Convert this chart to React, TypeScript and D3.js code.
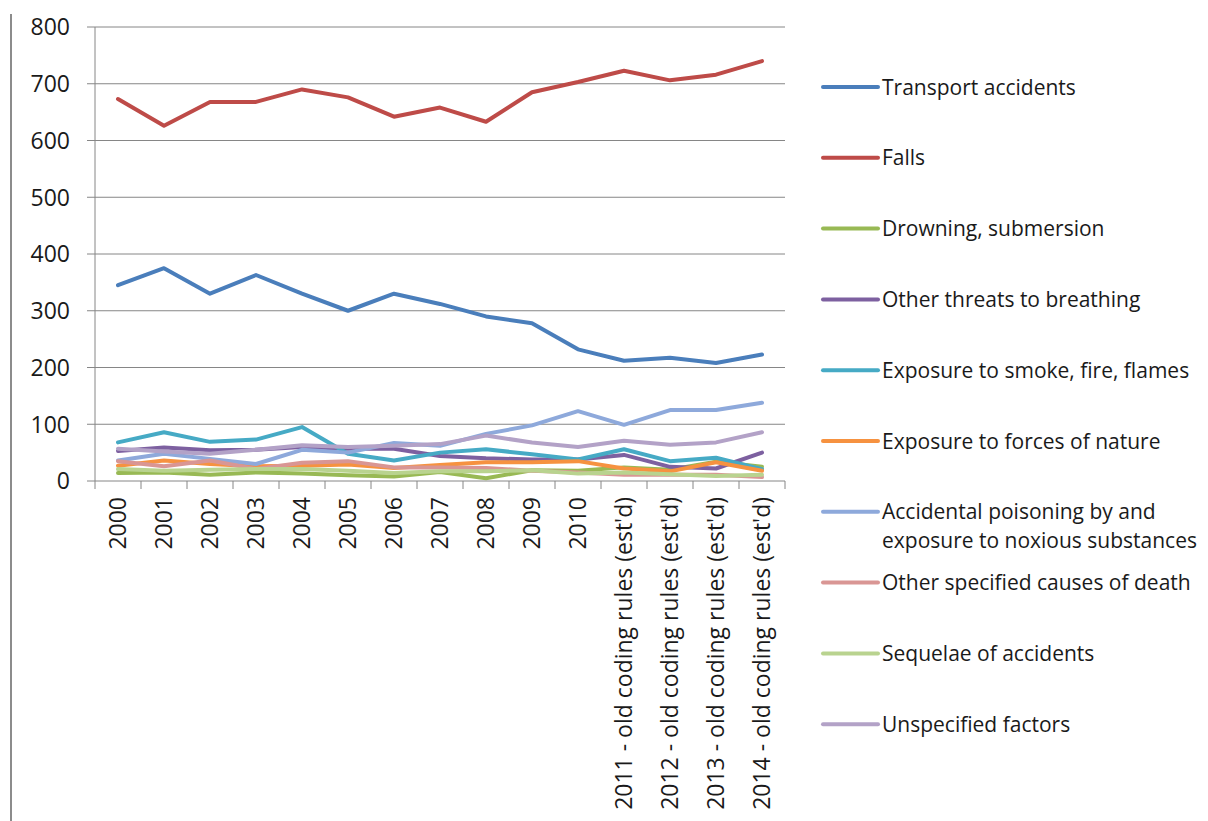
import React from "react";
import * as d3 from "d3";

const categories = ["2000","2001","2002","2003","2004","2005","2006","2007","2008","2009","2010",
  "2011 - old coding rules (est'd)","2012 - old coding rules (est'd)","2013 - old coding rules (est'd)","2014 - old coding rules (est'd)"];

const transport = [345,375,330,363,330,300,330,312,290,278,232,212,217,208,223];
const falls = [673,626,668,668,690,676,642,658,633,685,703,723,706,716,740];
const drowning = [14,15,11,15,13,10,8,16,5,19,18,24,20,34,25];
const otherThreats = [53,59,54,55,60,57,57,44,40,38,38,46,25,22,50];
const smoke = [68,86,69,73,95,48,36,50,56,47,38,56,35,41,21];
const forces = [27,36,30,26,27,29,23,28,33,33,35,22,17,33,18];
const poisoning = [36,48,39,30,55,50,67,62,83,98,123,99,125,125,138];
const otherSpecified = [35,26,36,21,32,35,24,24,23,18,15,11,11,11,7];
const sequelae = [21,18,20,21,21,18,14,17,17,19,13,15,12,9,11];
const unspecified = [57,52,48,55,63,60,62,65,80,68,60,71,64,68,86];

const seriesNames = ["Transport accidents","Falls","Drowning, submersion","Other threats to breathing",
  "Exposure to smoke, fire, flames","Exposure to forces of nature","Accidental poisoning by and|exposure to noxious substances",
  "Other specified causes of death","Sequelae of accidents","Unspecified factors"];
const seriesColors = ["#4A7EBB","#BE4B48","#98B954","#7D60A0","#46AAC5","#F69240","#8EA9DB","#D99694","#B9D38F","#B3A2C7"];
const seriesValues = [transport,falls,drowning,otherThreats,smoke,forces,poisoning,otherSpecified,sequelae,unspecified];

const yTicks = [0,100,200,300,400,500,600,700,800];

export default function App() {
  const W = 1208, H = 821;
  const left = 95, right = 785, top = 27, bottom = 481;
  const x = d3.scaleBand<string>().domain(categories).range([left, right]).padding(0);
  const y = d3.scaleLinear().domain([0, 800]).range([bottom, top]);
  const line = d3.line<number>()
    .x((_, i) => (x(categories[i]) as number) + x.bandwidth() / 2)
    .y(d => y(d));
  const font = "'Open Sans', sans-serif";
  const txt = "#1a1a1a";
  const drawOrder = [0,1,2,3,4,5,6,7,8,9];
  return (
    <svg width={W} height={H} style={{ position: "absolute", left: 0, top: 0, background: "#fff" }}>
      <line x1={11} x2={11} y1={14} y2={H} stroke="#8c8c8c" strokeWidth={2} />
      {yTicks.map(t => (
        <g key={t}>
          {t > 0 && <line x1={left} x2={right} y1={y(t)} y2={y(t)} stroke="#868686" strokeWidth={1} />}
          <line x1={left - 8} x2={left} y1={y(t)} y2={y(t)} stroke="#868686" strokeWidth={1} />
          <text x={70} y={y(t)} dy="0.36em" textAnchor="end" fontFamily={font} fontSize={23} fill={txt}>{t}</text>
        </g>
      ))}
      <line x1={left} x2={left} y1={top} y2={bottom} stroke="#868686" strokeWidth={1} />
      <line x1={left} x2={right} y1={bottom} y2={bottom} stroke="#868686" strokeWidth={1} />
      {categories.map((c, i) => (
        <line key={"t" + i} x1={x(c) as number} x2={x(c) as number} y1={bottom} y2={bottom + 8} stroke="#868686" />
      ))}
      <line x1={right} x2={right} y1={bottom} y2={bottom + 8} stroke="#868686" />
      {categories.map((c, i) => {
        const cx = (x(c) as number) + x.bandwidth() / 2;
        return (
          <text key={"l" + i} transform={`translate(${cx + 8},${497}) rotate(-90)`} textAnchor="end"
            fontFamily={font} fontSize={23} fill={txt}>{c}</text>
        );
      })}
      {drawOrder.map(i => (
        <path key={"s" + i} d={line(seriesValues[i]) || ""} fill="none" stroke={seriesColors[i]}
          strokeWidth={4} strokeLinejoin="round" strokeLinecap="round" />
      ))}
      {seriesNames.map((n, i) => {
        const ly = 87 + i * 70.8;
        const parts = n.split("|");
        return (
          <g key={"lg" + i}>
            <line x1={823} x2={878} y1={ly} y2={ly} stroke={seriesColors[i]} strokeWidth={4} strokeLinecap="round" />
            {parts.map((p, j) => (
              <text key={j} x={882} y={ly + j * 29} dy="0.36em" fontFamily={font} fontSize={21} fill={txt}>{p}</text>
            ))}
          </g>
        );
      })}
    </svg>
  );
}
